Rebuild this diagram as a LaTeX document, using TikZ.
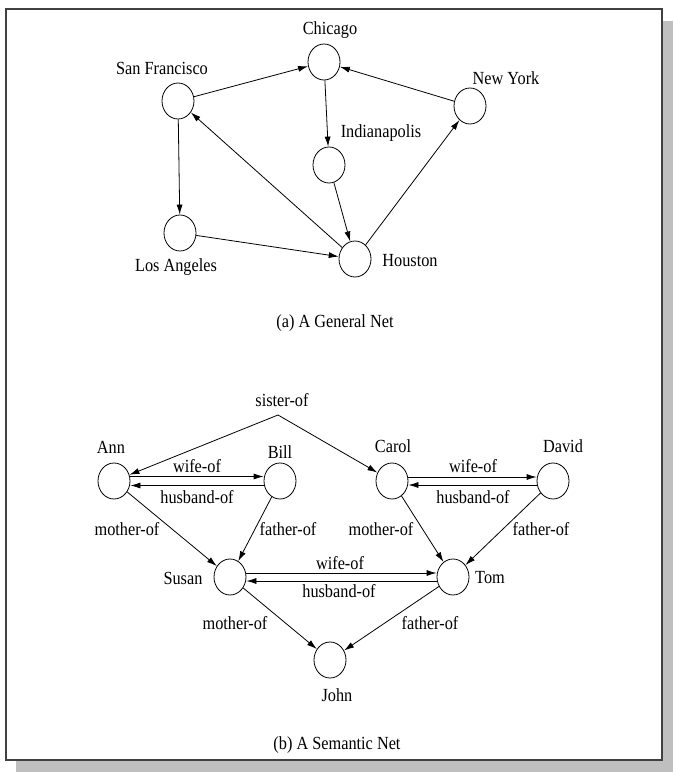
\documentclass[tikz,border=0pt]{standalone}
\usepackage{fontspec}
\setmainfont{Liberation Serif}[FakeStretch=0.88]
\usetikzlibrary{arrows.meta,shapes.geometric}
\begin{document}
\begin{tikzpicture}[x=1pt,y=-1pt,
  nd/.style={draw, ellipse, minimum width=32pt, minimum height=36pt, inner sep=0pt, line width=0.8pt},
  lbl/.style={font=\fontsize{18.5}{21}\selectfont, inner sep=0pt},
  arr/.style={-{Latex[length=10pt,width=6pt]}, line width=0.8pt}]
\useasboundingbox (0,0) rectangle (675,775);
% frame with shadow
\fill[black!25] (16,21) rectangle (673,772);
\fill[white] (6,9) rectangle (662,760);
\draw[black!75, line width=2pt] (6,9) rectangle (662,760);

% (a) General net
\node[nd] (chi) at (324,62) {};
\node[nd] (sf) at (178,101) {};
\node[nd] (ny) at (470,106) {};
\node[nd] (ind) at (329,165) {};
\node[nd] (la) at (180,233) {};
\node[nd] (hou) at (355,259) {};
\node[lbl] (lchi) at (330,30) {Chicago};
\node[lbl] (lsf) at (162,68) {San Francisco};
\node[lbl] (lny) at (506,78) {New York};
\node[lbl] (lind) at (381,133) {Indianapolis};
\node[lbl] (lla) at (176,267) {Los Angeles};
\node[lbl] (lhou) at (410,261) {Houston};
\draw[arr] (sf) -- (chi);
\draw[arr] (ny) -- (chi);
\draw[arr] (chi) -- (ind);
\draw[arr] (ind) -- (hou);
\draw[arr] (hou) -- (ny);
\draw[arr] (hou) -- (sf);
\draw[arr] (sf) -- (la);
\draw[arr] (la) -- (hou);
\node[lbl] (capa) at (335,323) {(a) A General Net};

% (b) Semantic net
\node[nd] (ann) at (114,481) {};
\node[nd] (bill) at (280,481) {};
\node[nd] (carol) at (392,481) {};
\node[nd] (david) at (553,481) {};
\node[nd] (susan) at (230,577) {};
\node[nd] (tom) at (453,577) {};
\node[nd] (john) at (330,660) {};
\node[lbl] (lann) at (111,447) {Ann};
\node[lbl] (lbill) at (280,452) {Bill};
\node[lbl] (lcarol) at (393,446) {Carol};
\node[lbl] (ldavid) at (563,446) {David};
\node[lbl] (lsusan) at (183,578) {Susan};
\node[lbl] (ltom) at (490,578) {Tom};
\node[lbl] (ljohn) at (337,695) {John};

\node[lbl] (sis) at (282,400) {sister-of};
\coordinate (apex) at (278,415);
\draw[arr] (apex) -- (ann);
\draw[arr] (apex) -- (carol);

\draw[arr] ([yshift=4.5pt]ann.east) -- ([yshift=4.5pt]bill.west);
\draw[arr] ([yshift=-4.5pt]bill.west) -- ([yshift=-4.5pt]ann.east);
\node[lbl] (w1) at (197,466) {wife-of};
\node[lbl] (h1) at (197,497) {husband-of};

\draw[arr] ([yshift=4pt]carol.east) -- ([yshift=4pt]david.west);
\draw[arr] ([yshift=-4pt]david.west) -- ([yshift=-4pt]carol.east);
\node[lbl] (w2) at (473,466) {wife-of};
\node[lbl] (h2) at (473,497) {husband-of};

\draw[arr] ([yshift=4pt]susan.east) -- ([yshift=4pt]tom.west);
\draw[arr] ([yshift=-4pt]tom.west) -- ([yshift=-4pt]susan.east);
\node[lbl] (w3) at (340,563) {wife-of};
\node[lbl] (h3) at (339,591) {husband-of};

\draw[arr] (ann) -- (susan);
\draw[arr] (bill) -- (susan);
\draw[arr] (carol) -- (tom);
\draw[arr] (david) -- (tom);
\draw[arr] (susan) -- (john);
\draw[arr] (tom) -- (john);
\node[lbl] (m1) at (127,529) {mother-of};
\node[lbl] (f1) at (288,529) {father-of};
\node[lbl] (m2) at (381,529) {mother-of};
\node[lbl] (f2) at (541,529) {father-of};
\node[lbl] (m3) at (235,623) {mother-of};
\node[lbl] (f3) at (430,623) {father-of};

\node[lbl] (capb) at (337,745) {(b) A Semantic Net};
\end{tikzpicture}
\end{document}
